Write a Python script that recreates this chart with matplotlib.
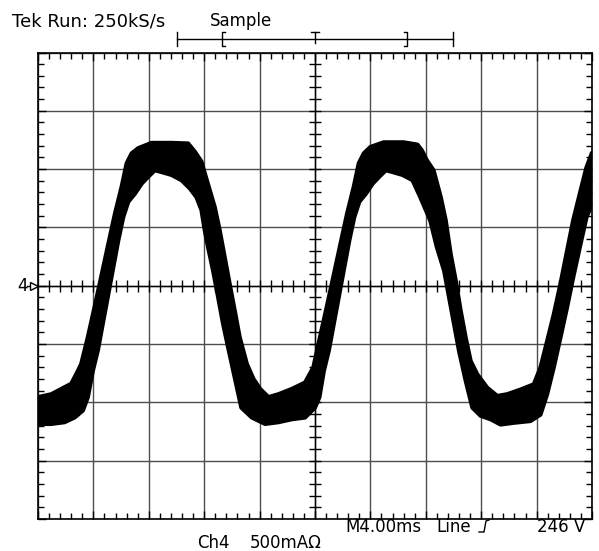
import matplotlib
matplotlib.use("Agg")
import matplotlib.pyplot as plt
import numpy as np
from matplotlib.lines import Line2D

# trace envelope, in divisions (x: 0..10, y: -4..4)
top_x = [0.00, 0.24, 0.42, 0.60, 0.72, 0.78, 0.90, 1.02, 1.14, 1.27, 1.39, 1.51, 1.60, 1.69, 1.81,
         2.05, 2.41, 2.71, 2.83, 2.95, 3.01, 3.10, 3.19, 3.28, 3.37, 3.46, 3.55, 3.64, 3.77, 3.89,
         4.01, 4.16, 4.34, 4.58, 4.82, 4.97, 5.09, 5.21, 5.33, 5.46, 5.58, 5.70, 5.79, 5.88, 6.00,
         6.24, 6.60, 6.85, 6.93, 7.02, 7.14, 7.27, 7.36, 7.45, 7.54, 7.63, 7.72, 7.81, 7.93, 8.11,
         8.29, 8.47, 8.71, 8.95, 9.07, 9.19, 9.31, 9.43, 9.55, 9.66, 9.78, 9.90, 10.00]
top_y = [-1.91, -1.86, -1.77, -1.68, -1.46, -1.34, -0.88, -0.37, 0.15, 0.72, 1.24, 1.70, 2.10, 2.27, 2.36,
         2.45, 2.45, 2.44, 2.30, 2.13, 1.93, 1.64, 1.35, 0.95, 0.49, 0.03, -0.42, -0.88, -1.34, -1.60,
         -1.77, -1.91, -1.86, -1.77, -1.66, -1.40, -0.88, -0.37, 0.15, 0.72, 1.24, 1.70, 2.10, 2.27, 2.38,
         2.46, 2.46, 2.42, 2.32, 2.15, 1.98, 1.52, 1.12, 0.54, 0.09, -0.43, -0.89, -1.29, -1.52, -1.75,
         -1.89, -1.86, -1.78, -1.69, -1.40, -0.95, -0.49, 0.03, 0.60, 1.12, 1.58, 2.03, 2.28]
bot_x = [0.00, 0.24, 0.48, 0.66, 0.81, 0.90, 0.99, 1.08, 1.17, 1.27, 1.36, 1.45, 1.54, 1.63, 1.75,
         1.87, 1.99, 2.11, 2.23, 2.41, 2.59, 2.74, 2.86, 2.95, 3.01, 3.07, 3.16, 3.25, 3.34, 3.43,
         3.55, 3.67, 3.86, 4.10, 4.34, 4.58, 4.82, 5.00, 5.08, 5.16, 5.25, 5.34, 5.44, 5.53, 5.62,
         5.71, 5.80, 5.92, 6.04, 6.16, 6.28, 6.40, 6.58, 6.76, 6.90, 7.08, 7.20, 7.33, 7.42, 7.51,
         7.60, 7.72, 7.84, 7.99, 8.17, 8.35, 8.59, 8.89, 9.07, 9.19, 9.31, 9.43, 9.55, 9.66, 9.78,
         9.90, 10.00]
bot_y = [-2.37, -2.37, -2.34, -2.26, -2.14, -1.91, -1.46, -1.11, -0.65, -0.14, 0.32, 0.78, 1.18, 1.44, 1.58,
         1.75, 1.87, 1.98, 1.95, 1.90, 1.81, 1.67, 1.52, 1.30, 0.95, 0.66, 0.26, -0.19, -0.65, -1.05,
         -1.57, -2.09, -2.26, -2.37, -2.34, -2.29, -2.26, -2.09, -1.91, -1.46, -1.11, -0.65, -0.14, 0.32, 0.78,
         1.18, 1.44, 1.58, 1.75, 1.87, 1.98, 1.95, 1.90, 1.81, 1.52, 1.12, 0.66, 0.26, -0.20, -0.66,
         -1.12, -1.63, -2.09, -2.23, -2.29, -2.38, -2.35, -2.32, -2.21, -1.86, -1.40, -0.89, -0.37, 0.14, 0.66,
         1.17, 1.40]

W, H = 599, 551


def fx(px):
    return px / W


def fy(py):
    return 1 - py / H


fig = plt.figure(figsize=(W / 100, H / 100), dpi=100)
ax = fig.add_axes([fx(38), fy(519), (592 - 38) / W, (519 - 52.5) / H])
ax.set_xlim(0, 10)
ax.set_ylim(-4, 4)

# graticule
ax.set_xticks(np.arange(0, 11, 1))
ax.set_yticks(np.arange(-4, 5, 1))
ax.set_xticks(np.arange(0, 10.01, 0.2), minor=True)
ax.set_yticks(np.arange(-4, 4.01, 0.2), minor=True)
ax.tick_params(which="both", direction="in", top=True, right=True,
               labelbottom=False, labelleft=False, color="black", width=1)
ax.tick_params(which="major", length=6)
ax.tick_params(which="minor", length=4.5)
ax.grid(True, which="major", color="0.3", lw=1)
for s in ax.spines.values():
    s.set_color("black")
    s.set_linewidth(1.2)
ax.axhline(0, color="black", lw=1)
ax.axvline(5, color="black", lw=1)
cx = np.arange(0.2, 10, 0.2)
cy = np.arange(-3.8, 4, 0.2)
ax.plot(cx, np.zeros_like(cx), ls="none", marker="|", ms=8, mew=1, color="black")
ax.plot(np.full_like(cy, 5), cy, ls="none", marker="_", ms=8, mew=1, color="black")

# waveform band
poly_x = top_x + bot_x[::-1]
poly_y = top_y + bot_y[::-1]
ax.fill(poly_x, poly_y, facecolor="black", edgecolor="black", lw=3,
        joinstyle="round", zorder=5, clip_on=True)

# header text
fs = 12
fig.text(fx(12), fy(26), "Tek Run: 250kS/s", fontsize=13, va="baseline", ha="left")
fig.text(fx(210), fy(26), "Sample", fontsize=fs, va="baseline", ha="left")


# trigger/record bar
def fline(xs, ys, lw=1):
    fig.add_artist(Line2D([fx(v) for v in xs], [fy(v) for v in ys], color="black", lw=lw))


fline([177, 453], [39, 39])
fline([177, 177], [32, 46])
fline([453, 453], [32, 46])
fline([225, 222, 222, 225], [32, 32, 46, 46])
fline([404, 407, 407, 404], [32, 32, 46, 46])
fline([311, 319], [32, 32])
fline([315, 315], [32, 43])

# ground marker
fig.text(fx(17), fy(291), "4", fontsize=fs, va="baseline", ha="left")
fline([27, 33], [285.5, 285.5])
fig.add_artist(Line2D([fx(34)], [fy(285.5)], marker=">", ms=6, mfc="white",
                      mec="black", mew=1, ls="none"))

# footer text
fig.text(fx(345), fy(532), "M4.00ms", fontsize=fs, va="baseline", ha="left")
fig.text(fx(436), fy(532), "Line", fontsize=fs, va="baseline", ha="left")
fline([479, 484, 486, 489], [532, 532, 521, 520])
fig.text(fx(537), fy(532), "246 V", fontsize=fs, va="baseline", ha="left")
fig.text(fx(197), fy(548), "Ch4", fontsize=fs, va="baseline", ha="left")
fig.text(fx(250), fy(548), "500mAΩ", fontsize=fs, va="baseline", ha="left")

fig.savefig("out.png", dpi=100, facecolor="white")
